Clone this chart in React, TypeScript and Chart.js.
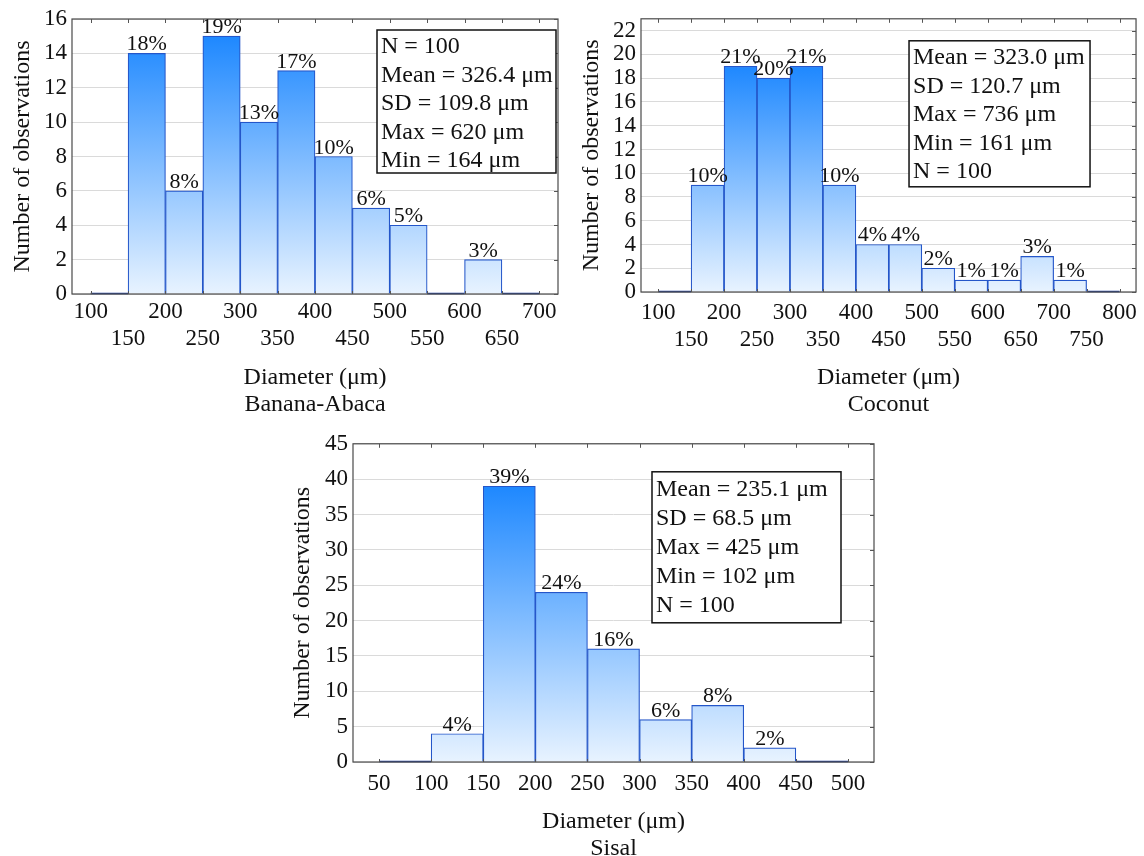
import React, { useEffect, useRef } from 'react';
import { Chart, registerables } from 'chart.js';

Chart.register(...registerables);

const FONT = '"Liberation Serif", "Times New Roman", serif';

// ---------- Data ----------
const binWidth = 50;

const bananaBins = [100, 150, 200, 250, 300, 350, 400, 450, 500, 550, 600, 650];
const bananaCounts = [0, 14, 6, 15, 10, 13, 8, 5, 4, 0, 2, 0];
const bananaPct = ['', '18%', '8%', '19%', '13%', '17%', '10%', '6%', '5%', '', '3%', ''];
const bananaXTicks = [100, 150, 200, 250, 300, 350, 400, 450, 500, 550, 600, 650, 700];
const bananaStats = ['N = 100', 'Mean = 326.4 μm', 'SD = 109.8 μm', 'Max = 620 μm', 'Min = 164 μm'];
const bananaTitle = ['Diameter (μm)', 'Banana-Abaca'];

const coconutBins = [100, 150, 200, 250, 300, 350, 400, 450, 500, 550, 600, 650, 700, 750];
const coconutCounts = [0, 9, 19, 18, 19, 9, 4, 4, 2, 1, 1, 3, 1, 0];
const coconutPct = ['', '10%', '21%', '20%', '21%', '10%', '4%', '4%', '2%', '1%', '1%', '3%', '1%', ''];
const coconutXTicks = [100, 150, 200, 250, 300, 350, 400, 450, 500, 550, 600, 650, 700, 750, 800];
const coconutStats = ['Mean = 323.0 μm', 'SD = 120.7 μm', 'Max = 736 μm', 'Min = 161 μm', 'N = 100'];
const coconutTitle = ['Diameter (μm)', 'Coconut'];

const sisalBins = [50, 100, 150, 200, 250, 300, 350, 400, 450];
const sisalCounts = [0, 4, 39, 24, 16, 6, 8, 2, 0];
const sisalPct = ['', '4%', '39%', '24%', '16%', '6%', '8%', '2%', ''];
const sisalXTicks = [50, 100, 150, 200, 250, 300, 350, 400, 450, 500];
const sisalStats = ['Mean = 235.1 μm', 'SD = 68.5 μm', 'Max = 425 μm', 'Min = 102 μm', 'N = 100'];
const sisalTitle = ['Diameter (μm)', 'Sisal'];

const yLabel = 'Number of observations';

// ---------- Config (layout/style) ----------
type Cfg = {
  bins: number[]; counts: number[]; pct: string[]; xTicks: number[]; stats: string[]; title: string[];
  xMin: number; xMax: number; yMax: number; yStep: number; twoRow: boolean;
  left: number; top: number; width: number; height: number;
  padTop: number; padRight: number; yAxisWidth: number; xAxisHeight: number;
  tickPad: number; titlePadBottom: number; yTitlePadTop: number;
  box: { fromRight: number; fromTop: number; w: number; h: number; first: number; step: number };
};

const charts: Cfg[] = [
  {
    bins: bananaBins, counts: bananaCounts, pct: bananaPct, xTicks: bananaXTicks, stats: bananaStats, title: bananaTitle,
    xMin: 75, xMax: 725, yMax: 16, yStep: 2, twoRow: true,
    left: 0, top: 0, width: 570, height: 420,
    padTop: 19, padRight: 12, yAxisWidth: 72, xAxisHeight: 126,
    tickPad: 4, titlePadBottom: 2, yTitlePadTop: 8,
    box: { fromRight: 181, fromTop: 11, w: 179, h: 143, first: 17, step: 28.5 },
  },
  {
    bins: coconutBins, counts: coconutCounts, pct: coconutPct, xTicks: coconutXTicks, stats: coconutStats, title: coconutTitle,
    xMin: 74, xMax: 825, yMax: 23, yStep: 2, twoRow: true,
    left: 575, top: 0, width: 569, height: 420,
    padTop: 10, padRight: 6, yAxisWidth: 66, xAxisHeight: 128,
    tickPad: 7, titlePadBottom: 2, yTitlePadTop: 2,
    box: { fromRight: 227, fromTop: 22, w: 181, h: 146, first: 17, step: 28.5 },
  },
  {
    bins: sisalBins, counts: sisalCounts, pct: sisalPct, xTicks: sisalXTicks, stats: sisalStats, title: sisalTitle,
    xMin: 25, xMax: 525, yMax: 45, yStep: 5, twoRow: false,
    left: 285, top: 425, width: 600, height: 440,
    padTop: 15, padRight: 11, yAxisWidth: 68, xAxisHeight: 103,
    tickPad: 8, titlePadBottom: 3, yTitlePadTop: 3,
    box: { fromRight: 222, fromTop: 28, w: 189, h: 151, first: 18, step: 29 },
  },
];

const BAR_BORDER = '#2456c9';
const FRAME = '#4a4a4a';

function Hist({ cfg }: { cfg: Cfg }) {
  const ref = useRef<HTMLCanvasElement>(null);

  useEffect(() => {
    const maxCount = Math.max(...cfg.counts);
    const data = cfg.bins.map((b, i) => ({ x: b + binWidth / 2, y: cfg.counts[i] }));

    const overlay = {
      id: 'overlay',
      afterDatasetsDraw(chart: any) {
        const ctx = chart.ctx;
        const area = chart.chartArea;
        const xs = chart.scales.x;
        const ys = chart.scales.y;
        const meta = chart.getDatasetMeta(0);
        ctx.save();
        // zero-bin baselines
        ctx.strokeStyle = '#1f3f9f';
        ctx.lineWidth = 1.5;
        meta.data.forEach((el: any, i: number) => {
          if (cfg.counts[i] === 0) {
            const half = el.width / 2;
            ctx.beginPath();
            ctx.moveTo(el.x - half, el.base - 0.5);
            ctx.lineTo(el.x + half, el.base - 0.5);
            ctx.stroke();
          }
        });
        // frame
        ctx.strokeStyle = FRAME;
        ctx.lineWidth = 1.2;
        ctx.strokeRect(area.left, area.top, area.right - area.left, area.bottom - area.top);
        // inside tick marks
        ctx.lineWidth = 1;
        ctx.strokeStyle = '#555';
        xs.ticks.forEach((t: any) => {
          const px = Math.round(xs.getPixelForValue(t.value)) + 0.5;
          ctx.beginPath();
          ctx.moveTo(px, area.top);
          ctx.lineTo(px, area.top + 4);
          ctx.moveTo(px, area.bottom);
          ctx.lineTo(px, area.bottom - 3);
          ctx.stroke();
        });
        ys.ticks.forEach((t: any) => {
          const py = Math.round(ys.getPixelForValue(t.value)) + 0.5;
          ctx.beginPath();
          ctx.moveTo(area.right, py);
          ctx.lineTo(area.right - 4, py);
          ctx.stroke();
        });
        // percentage labels
        ctx.fillStyle = '#111';
        ctx.font = `22px ${FONT}`;
        ctx.textAlign = 'center';
        ctx.textBaseline = 'alphabetic';
        meta.data.forEach((el: any, i: number) => {
          const lbl = cfg.pct[i];
          if (lbl) ctx.fillText(lbl, el.x, el.y - 3);
        });
        ctx.restore();
      },
      afterDraw(chart: any) {
        const ctx = chart.ctx;
        const area = chart.chartArea;
        const b = cfg.box;
        const bx = area.right - b.fromRight;
        const by = area.top + b.fromTop;
        ctx.save();
        ctx.fillStyle = '#fff';
        ctx.fillRect(bx, by, b.w, b.h);
        ctx.strokeStyle = '#111';
        ctx.lineWidth = 1.5;
        ctx.strokeRect(bx, by, b.w, b.h);
        ctx.fillStyle = '#111';
        ctx.font = `24px ${FONT}`;
        ctx.textAlign = 'left';
        ctx.textBaseline = 'middle';
        cfg.stats.forEach((s, i) => ctx.fillText(s, bx + 4, by + b.first + i * b.step));
        ctx.restore();
      },
    };

    const chart = new Chart(ref.current!, {
      type: 'bar',
      data: {
        datasets: [
          {
            data: data as any,
            backgroundColor: (c: any) => {
              const ch = c.chart;
              const area = ch.chartArea;
              if (!area) return '#8ec4ff';
              const topPx = ch.scales.y.getPixelForValue(maxCount);
              const g = ch.ctx.createLinearGradient(0, topPx, 0, area.bottom);
              g.addColorStop(0, '#1e88ff');
              g.addColorStop(1, '#e8f3ff');
              return g;
            },
            borderColor: BAR_BORDER,
            borderWidth: 1.2,
            barPercentage: 1,
            categoryPercentage: 1,
          },
        ],
      },
      options: {
        animation: false,
        responsive: false,
        devicePixelRatio: 1,
        layout: { padding: { top: cfg.padTop, right: cfg.padRight, left: 0, bottom: 0 } },
        plugins: { legend: { display: false }, tooltip: { enabled: false } },
        events: [],
        scales: {
          x: {
            type: 'linear',
            min: cfg.xMin,
            max: cfg.xMax,
            offset: false,
            afterBuildTicks: (s: any) => {
              s.ticks = cfg.xTicks.map((v) => ({ value: v }));
            },
            afterFit: (s: any) => {
              s.height = cfg.xAxisHeight;
            },
            grid: { display: false, drawTicks: false },
            border: { display: false },
            ticks: {
              autoSkip: false,
              maxRotation: 0,
              padding: cfg.tickPad,
              color: '#111',
              font: { family: FONT, size: 23, lineHeight: 1.2 },
              callback: (v: any) => {
                const n = Number(v);
                if (!cfg.twoRow) return String(n);
                return n % 100 === 0 ? [String(n), ''] : ['', String(n)];
              },
            },
            title: {
              display: true,
              text: cfg.title,
              color: '#111',
              font: { family: FONT, size: 24, lineHeight: 1.13 },
              padding: { top: 0, bottom: cfg.titlePadBottom },
            },
          },
          y: {
            type: 'linear',
            min: 0,
            max: cfg.yMax,
            afterFit: (s: any) => {
              s.width = cfg.yAxisWidth;
            },
            grid: { color: '#dadada', lineWidth: 1, drawTicks: false },
            border: { display: false },
            ticks: {
              stepSize: cfg.yStep,
              includeBounds: false,
              autoSkip: false,
              padding: 5,
              color: '#111',
              font: { family: FONT, size: 23, lineHeight: 1.2 },
            },
            title: {
              display: true,
              text: yLabel,
              color: '#111',
              font: { family: FONT, size: 24, lineHeight: 1.2 },
              padding: { top: cfg.yTitlePadTop, bottom: 0 },
            },
          },
        },
      } as any,
      plugins: [overlay as any],
    });
    return () => chart.destroy();
  }, [cfg]);

  return (
    <div style={{ position: 'absolute', left: cfg.left, top: cfg.top, width: cfg.width, height: cfg.height }}>
      <canvas ref={ref} width={cfg.width} height={cfg.height} style={{ width: cfg.width, height: cfg.height, display: 'block' }} />
    </div>
  );
}

export default function App() {
  return (
    <div style={{ position: 'fixed', left: 0, top: 0, width: 1144, height: 856, overflow: 'hidden', background: '#fff' }}>
      {charts.map((c, i) => (
        <Hist key={i} cfg={c} />
      ))}
    </div>
  );
}
